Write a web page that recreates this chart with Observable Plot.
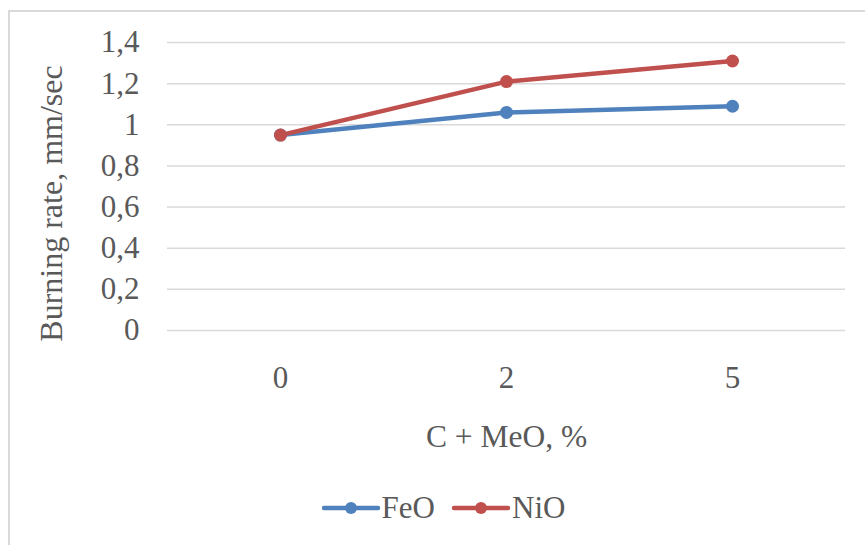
<!DOCTYPE html>
<html>
<head>
<meta charset="utf-8">
<script src="https://cdn.jsdelivr.net/npm/d3@7"></script>
<script src="https://cdn.jsdelivr.net/npm/@observablehq/plot@0.6"></script>
<style>
  html, body { margin: 0; padding: 0; background: #fff; }
  #wrap { position: relative; width: 865px; height: 545px; overflow: hidden; font-family: "Liberation Serif", "Times New Roman", serif; }
  #frame { position: absolute; left: 8px; top: 10px; width: 1000px; height: 1000px; border: 2px solid #d9d9d9; box-sizing: border-box; }
  #chart { position: absolute; left: 0; top: 0; }
  #legend { position: absolute; left: 0; top: 470px; width: 865px; height: 75px; display: flex; justify-content: center; align-items: center; gap: 17px; color: #595959; font-size: 31px; padding-left: 22px; box-sizing: border-box; }
  .item { display: flex; align-items: center; }
  .item svg { margin-right: 2px; }
</style>
</head>
<body>
<div id="wrap">
  <div id="frame"></div>
  <div id="chart"></div>
  <div id="legend"></div>
</div>
<script>
const categories = ["0", "2", "5"];
const seriesNames = ["FeO", "NiO"];
const feoValues = [0.95, 1.06, 1.09];
const nioValues = [0.95, 1.21, 1.31];
const seriesColors = ["#4F81BD", "#C0504D"];
const yTicks = [0, 0.2, 0.4, 0.6, 0.8, 1, 1.2, 1.4];
const xLabel = "C + MeO, %";
const yLabel = "Burning rate, mm/sec";

const data = [];
categories.forEach((c, i) => {
  data.push({x: c, y: feoValues[i], s: seriesNames[0]});
});
categories.forEach((c, i) => {
  data.push({x: c, y: nioValues[i], s: seriesNames[1]});
});

const fmt = d => String(d).replace(".", ",");

const chart = Plot.plot({
  width: 865,
  height: 470,
  marginTop: 42,
  marginBottom: 140,
  marginLeft: 167,
  marginRight: 20,
  style: { fontFamily: "Liberation Serif, Times New Roman, serif", fontSize: "31px", color: "#595959", background: "transparent" },
  x: { type: "point", domain: categories, padding: 0.5 },
  y: { domain: [0, 1.4] },
  color: { domain: seriesNames, range: seriesColors },
  marks: [
    Plot.gridY(yTicks, { stroke: "#d9d9d9", strokeOpacity: 1, strokeWidth: 1.5 }),
    Plot.axisY({ ticks: yTicks, tickFormat: fmt, tickSize: 0, tickPadding: 28, label: null, fontSize: 31 }),
    Plot.axisX({ tickSize: 0, tickPadding: 35, label: null, fontSize: 31 }),
    Plot.line(data, { x: "x", y: "y", z: "s", stroke: "s", strokeWidth: 4.5, strokeLinecap: "round" }),
    Plot.dot(data, { x: "x", y: "y", fill: "s", r: 6.5 }),
    Plot.text([xLabel], { frameAnchor: "bottom", dy: 106, text: d => d, fontSize: 31.5, fill: "#595959", textAnchor: "middle", lineAnchor: "middle" }),
    Plot.text([yLabel], { frameAnchor: "left", dx: -116, dy: 17, rotate: -90, text: d => d, fontSize: 32, fill: "#595959", textAnchor: "middle", lineAnchor: "middle" })
  ]
});
document.getElementById("chart").appendChild(chart);

const legend = document.getElementById("legend");
seriesNames.forEach((name, i) => {
  const item = document.createElement("div");
  item.className = "item";
  const col = seriesColors[i];
  item.innerHTML = `<svg width="58" height="16"><line x1="2" x2="56" y1="8" y2="8" stroke="${col}" stroke-width="4.5" stroke-linecap="round"/><circle cx="29" cy="8" r="6" fill="${col}"/></svg><span>${name}</span>`;
  legend.appendChild(item);
});
</script>
</body>
</html>
